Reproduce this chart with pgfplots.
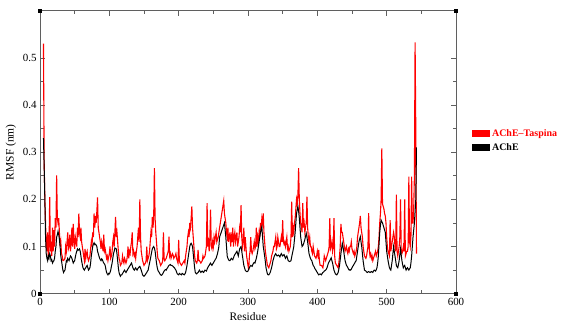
\documentclass[border=0pt]{standalone}
\usepackage{fontspec}
\setmainfont{Liberation Serif}
\usepackage{pgfplots}
\usepackage{pgfplotstable}
\pgfplotsset{compat=1.18}
\definecolor{framegray}{RGB}{95,95,95}

% RMSF per residue, AChE with Taspina
\pgfplotstableread{
res rmsf
5 0.53
6 0.28
7 0.20
8 0.15
9 0.10
10 0.09
11 0.13
12 0.08
13 0.10
14 0.205
15 0.09
16 0.10
17 0.08
18 0.14
19 0.09
20 0.135
21 0.10
22 0.16
23 0.14
24 0.251
25 0.16
26 0.15
27 0.16
28 0.13
29 0.10
30 0.11
31 0.085
32 0.08
33 0.07
34 0.07
36 0.075
37 0.10
38 0.09
40 0.13
41 0.095
42 0.10
43 0.125
44 0.09
45 0.11
46 0.14
47 0.10
48 0.148
49 0.11
50 0.095
51 0.12
52 0.11
53 0.10
54 0.14
55 0.12
56 0.17
57 0.13
58 0.12
59 0.14
60 0.11
61 0.10
62 0.09
63 0.08
64 0.07
65 0.095
66 0.075
67 0.085
68 0.09
69 0.075
70 0.07
72 0.08
73 0.095
74 0.11
75 0.10
76 0.13
77 0.12
78 0.17
79 0.14
80 0.165
81 0.15
82 0.175
83 0.204
84 0.14
85 0.13
86 0.12
87 0.11
88 0.095
89 0.11
90 0.10
91 0.09
92 0.125
93 0.09
94 0.095
95 0.085
96 0.075
97 0.08
98 0.07
100 0.085
101 0.10
102 0.075
103 0.08
104 0.09
105 0.11
106 0.12
107 0.10
108 0.13
109 0.163
110 0.12
111 0.13
112 0.11
113 0.09
114 0.075
115 0.07
116 0.06
118 0.065
119 0.08
120 0.07
121 0.065
122 0.075
124 0.065
125 0.07
126 0.08
127 0.10
128 0.075
129 0.09
130 0.085
131 0.10
132 0.11
133 0.13
134 0.085
135 0.09
136 0.08
137 0.085
138 0.075
139 0.09
140 0.10
141 0.12
142 0.14
143 0.11
144 0.20
145 0.12
146 0.09
147 0.08
148 0.07
150 0.06
152 0.065
153 0.07
154 0.10
155 0.07
156 0.075
157 0.08
158 0.09
159 0.11
160 0.13
161 0.12
162 0.163
163 0.14
164 0.165
165 0.266
166 0.16
167 0.13
168 0.11
169 0.09
170 0.075
172 0.07
174 0.06
176 0.065
177 0.07
178 0.13
179 0.075
180 0.07
182 0.075
183 0.08
184 0.085
185 0.09
186 0.121
187 0.08
188 0.085
189 0.075
190 0.08
191 0.085
192 0.082
193 0.075
194 0.078
195 0.08
196 0.085
197 0.075
198 0.07
199 0.065
200 0.114
201 0.07
202 0.065
204 0.06
206 0.065
208 0.07
209 0.065
210 0.08
211 0.09
212 0.10
213 0.12
214 0.13
215 0.12
216 0.15
217 0.14
218 0.16
219 0.185
220 0.14
221 0.12
222 0.10
223 0.08
224 0.07
226 0.065
227 0.07
228 0.093
229 0.07
230 0.07
232 0.065
234 0.07
235 0.08
236 0.075
238 0.08
239 0.09
240 0.10
241 0.192
242 0.10
243 0.11
244 0.09
245 0.12
246 0.178
247 0.10
248 0.095
249 0.11
250 0.10
251 0.12
252 0.11
253 0.12
254 0.13
255 0.11
256 0.115
257 0.12
258 0.13
265 0.197
266 0.17
267 0.16
268 0.15
269 0.13
270 0.12
271 0.14
272 0.11
273 0.12
274 0.13
275 0.10
276 0.12
277 0.11
278 0.14
279 0.10
280 0.12
281 0.13
282 0.11
283 0.12
284 0.13
285 0.10
286 0.11
287 0.12
288 0.14
289 0.13
290 0.188
291 0.12
292 0.10
293 0.11
294 0.14
295 0.09
296 0.12
297 0.10
298 0.08
299 0.07
300 0.06
301 0.05
302 0.08
303 0.09
304 0.12
305 0.09
306 0.085
307 0.09
308 0.10
309 0.11
310 0.095
311 0.10
312 0.14
313 0.10
314 0.12
315 0.11
316 0.13
317 0.12
318 0.15
319 0.14
320 0.16
321 0.15
322 0.17
323 0.13
324 0.11
325 0.09
326 0.08
327 0.07
328 0.06
330 0.055
332 0.065
333 0.07
334 0.08
335 0.085
336 0.09
337 0.10
338 0.10
339 0.11
340 0.12
341 0.095
342 0.10
343 0.12
344 0.11
345 0.10
346 0.10
347 0.11
348 0.12
349 0.11
350 0.156
351 0.11
352 0.105
353 0.11
354 0.10
355 0.11
356 0.12
357 0.095
358 0.10
359 0.09
360 0.095
361 0.10
362 0.12
363 0.195
364 0.12
365 0.14
366 0.13
367 0.15
368 0.16
369 0.18
370 0.20
371 0.19
372 0.21
373 0.266
374 0.20
375 0.17
376 0.15
377 0.14
378 0.13
379 0.192
380 0.14
381 0.15
382 0.13
383 0.14
384 0.15
385 0.206
386 0.14
387 0.12
388 0.11
389 0.12
390 0.10
391 0.10
392 0.09
393 0.085
394 0.10
395 0.09
396 0.08
398 0.075
399 0.08
400 0.09
401 0.08
402 0.093
403 0.07
404 0.06
406 0.06
408 0.055
409 0.065
410 0.08
411 0.075
412 0.07
413 0.075
414 0.08
415 0.085
416 0.09
417 0.10
418 0.16
419 0.095
420 0.10
421 0.11
422 0.09
423 0.10
424 0.16
425 0.08
426 0.065
428 0.06
430 0.055
431 0.065
432 0.08
433 0.10
434 0.148
435 0.13
436 0.13
437 0.12
438 0.11
439 0.10
440 0.09
441 0.095
442 0.10
443 0.09
444 0.085
445 0.095
446 0.09
447 0.10
448 0.10
449 0.11
450 0.095
451 0.09
452 0.085
453 0.09
454 0.08
455 0.085
456 0.09
457 0.10
458 0.12
459 0.13
460 0.14
461 0.15
462 0.165
463 0.14
464 0.13
465 0.12
466 0.10
467 0.09
468 0.08
470 0.075
471 0.08
472 0.09
473 0.10
474 0.171
475 0.09
476 0.08
477 0.085
478 0.075
479 0.08
480 0.07
481 0.075
482 0.08
483 0.085
484 0.09
485 0.08
486 0.085
487 0.09
488 0.10
489 0.12
490 0.15
491 0.17
492 0.20
493 0.308
494 0.19
495 0.185
496 0.18
497 0.17
498 0.165
499 0.15
500 0.12
501 0.10
502 0.09
503 0.085
504 0.08
505 0.156
506 0.09
507 0.10
508 0.11
509 0.12
510 0.13
511 0.12
512 0.10
513 0.09
514 0.21
515 0.09
516 0.08
517 0.09
518 0.10
519 0.12
520 0.20
521 0.09
522 0.085
523 0.09
524 0.10
525 0.09
526 0.20
527 0.08
528 0.085
529 0.09
530 0.09
531 0.10
532 0.248
533 0.11
534 0.10
535 0.12
536 0.248
537 0.15
538 0.15
539 0.18
540 0.25
541 0.533
542 0.35
543 0.085
}\taspina

% RMSF per residue, AChE alone
\pgfplotstableread{
res rmsf
5 0.33
6 0.27
7 0.20
8 0.12
9 0.085
10 0.075
11 0.07
12 0.08
13 0.075
14 0.085
15 0.08
16 0.07
17 0.072
18 0.065
19 0.068
20 0.07
21 0.075
22 0.09
23 0.10
24 0.12
25 0.125
26 0.132
27 0.125
28 0.115
29 0.10
30 0.08
31 0.07
32 0.06
33 0.05
34 0.045
35 0.048
36 0.05
37 0.06
38 0.07
39 0.068
40 0.075
41 0.072
42 0.07
43 0.076
44 0.08
45 0.078
46 0.075
47 0.07
48 0.065
49 0.068
50 0.07
51 0.078
52 0.085
53 0.09
54 0.095
55 0.092
56 0.093
57 0.095
58 0.09
59 0.08
60 0.07
61 0.062
62 0.055
63 0.052
64 0.05
65 0.053
66 0.055
67 0.058
68 0.06
69 0.055
70 0.05
71 0.052
72 0.055
73 0.065
74 0.08
75 0.09
76 0.10
77 0.105
78 0.108
79 0.104
80 0.105
81 0.103
82 0.10
83 0.09
84 0.085
85 0.08
86 0.075
87 0.072
88 0.07
89 0.074
90 0.072
91 0.068
92 0.065
93 0.063
94 0.06
95 0.052
96 0.045
97 0.042
98 0.04
99 0.043
100 0.042
101 0.045
102 0.05
103 0.058
104 0.065
105 0.075
106 0.085
107 0.09
108 0.097
109 0.096
110 0.095
111 0.085
112 0.07
113 0.055
114 0.045
115 0.04
116 0.037
117 0.04
118 0.04
119 0.043
120 0.045
121 0.048
122 0.05
123 0.047
124 0.045
125 0.048
126 0.05
127 0.053
128 0.055
129 0.058
130 0.06
131 0.063
132 0.065
133 0.06
134 0.055
135 0.052
136 0.05
137 0.053
138 0.055
139 0.052
140 0.05
141 0.053
142 0.055
143 0.057
144 0.058
145 0.054
146 0.05
147 0.045
148 0.04
149 0.038
150 0.037
151 0.039
152 0.04
153 0.043
154 0.045
155 0.048
156 0.05
157 0.058
158 0.065
159 0.072
160 0.08
161 0.088
162 0.095
163 0.098
164 0.10
165 0.097
166 0.09
167 0.078
168 0.065
169 0.056
170 0.05
171 0.047
172 0.045
173 0.042
174 0.04
175 0.039
176 0.04
177 0.042
178 0.045
179 0.048
180 0.05
181 0.051
182 0.05
183 0.053
184 0.055
185 0.058
186 0.06
187 0.061
188 0.062
189 0.06
190 0.06
191 0.059
192 0.058
193 0.056
194 0.055
195 0.052
196 0.05
197 0.046
198 0.042
199 0.041
200 0.04
201 0.043
202 0.042
203 0.041
204 0.04
205 0.043
206 0.042
207 0.041
208 0.04
209 0.042
210 0.045
211 0.052
212 0.06
213 0.07
214 0.08
215 0.09
216 0.10
217 0.105
218 0.107
219 0.104
220 0.10
221 0.085
222 0.07
223 0.055
224 0.045
225 0.043
226 0.042
227 0.044
228 0.045
229 0.048
230 0.05
231 0.047
232 0.045
233 0.047
234 0.048
235 0.046
236 0.045
237 0.048
238 0.05
239 0.049
240 0.048
241 0.052
242 0.055
243 0.058
244 0.06
245 0.063
246 0.065
247 0.062
248 0.06
249 0.063
250 0.065
251 0.068
252 0.07
253 0.073
254 0.075
255 0.08
256 0.085
257 0.092
258 0.10
259 0.12
266 0.15
267 0.135
268 0.12
269 0.10
270 0.08
271 0.075
272 0.072
273 0.07
274 0.07
275 0.073
276 0.075
277 0.073
278 0.072
279 0.076
280 0.08
281 0.083
282 0.085
283 0.088
284 0.09
285 0.085
286 0.08
287 0.088
288 0.095
289 0.098
290 0.10
291 0.09
292 0.08
293 0.07
294 0.06
295 0.055
296 0.05
297 0.048
298 0.047
299 0.047
300 0.048
301 0.052
302 0.055
303 0.058
304 0.06
305 0.059
306 0.058
307 0.062
308 0.065
309 0.066
310 0.065
311 0.07
312 0.075
313 0.082
314 0.09
315 0.10
316 0.11
317 0.12
318 0.13
319 0.137
320 0.142
321 0.12
322 0.10
323 0.09
324 0.08
325 0.068
326 0.055
327 0.048
328 0.042
329 0.04
330 0.04
331 0.042
332 0.045
333 0.05
334 0.055
335 0.062
336 0.07
337 0.075
338 0.08
339 0.083
340 0.085
341 0.082
342 0.08
343 0.081
344 0.082
345 0.08
346 0.078
347 0.082
348 0.085
349 0.082
350 0.08
351 0.082
352 0.083
353 0.079
354 0.075
355 0.078
356 0.08
357 0.075
358 0.07
359 0.069
360 0.068
361 0.069
362 0.07
363 0.078
364 0.085
365 0.092
366 0.10
367 0.115
368 0.13
369 0.15
370 0.17
371 0.178
372 0.185
373 0.175
374 0.16
375 0.14
376 0.12
377 0.11
378 0.10
379 0.102
380 0.105
381 0.11
382 0.115
383 0.122
384 0.128
385 0.12
386 0.11
387 0.098
388 0.085
389 0.08
390 0.075
391 0.072
392 0.07
393 0.065
394 0.06
395 0.058
396 0.055
397 0.052
398 0.05
399 0.047
400 0.045
401 0.042
402 0.04
403 0.041
404 0.042
405 0.041
406 0.04
407 0.043
408 0.045
409 0.046
410 0.048
411 0.049
412 0.05
413 0.052
414 0.055
415 0.06
416 0.065
417 0.068
418 0.07
419 0.073
420 0.076
421 0.07
422 0.065
423 0.057
424 0.05
425 0.046
426 0.042
427 0.041
428 0.04
429 0.042
430 0.045
431 0.052
432 0.06
433 0.072
434 0.085
435 0.096
436 0.107
437 0.1
438 0.09
439 0.08
440 0.07
441 0.065
442 0.06
443 0.058
444 0.055
445 0.052
446 0.05
447 0.051
448 0.05
449 0.052
450 0.055
451 0.058
452 0.06
453 0.063
454 0.065
455 0.068
456 0.07
457 0.08
458 0.09
459 0.10
460 0.11
461 0.116
462 0.121
463 0.11
464 0.10
465 0.085
466 0.07
467 0.06
468 0.05
469 0.049
470 0.048
471 0.046
472 0.045
473 0.046
474 0.047
475 0.046
476 0.045
477 0.046
478 0.047
479 0.046
480 0.045
481 0.048
482 0.05
483 0.049
484 0.048
485 0.051
486 0.055
487 0.065
488 0.08
489 0.105
490 0.13
491 0.145
492 0.156
493 0.153
494 0.15
495 0.145
496 0.14
497 0.135
498 0.13
499 0.11
500 0.09
501 0.08
502 0.07
503 0.062
504 0.055
505 0.052
506 0.05
507 0.06
508 0.07
509 0.085
510 0.10
511 0.09
512 0.08
513 0.07
514 0.06
515 0.057
516 0.055
517 0.062
518 0.07
519 0.083
520 0.095
521 0.082
522 0.07
523 0.062
524 0.055
525 0.058
526 0.06
527 0.055
528 0.05
529 0.053
530 0.055
531 0.052
532 0.05
533 0.053
534 0.055
535 0.065
536 0.08
537 0.10
538 0.12
539 0.135
540 0.15
541 0.175
542 0.20
543 0.31
}\ache

\begin{document}
\begin{tikzpicture}
\begin{axis}[
  name=ax,
  width=416bp, height=283bp, scale only axis,
  xmin=0, xmax=600, ymin=0, ymax=0.6,
  xtick={0,100,...,600},
  ytick={0,0.1,0.2,0.3,0.4,0.5},
  minor x tick num=1, minor y tick num=1,
  tick align=inside,
  major tick length=5bp, minor tick length=3.5bp,
  axis line style={framegray, line width=0.9bp},
  every tick/.style={framegray, line width=0.7bp},
  /pgf/number format/assume math mode=true,
  yticklabel style={/pgf/number format/fixed, /pgf/number format/precision=1},
  tick label style={font=\fontsize{11}{13}\selectfont},
  xticklabel style={yshift=-1bp},
  xlabel={Residue}, ylabel={RMSF (nm)},
  label style={font=\fontsize{11.5}{13}\selectfont},
  legend style={at={(1.038,0.588)}, anchor=north west, draw=none, fill=none,
    inner sep=0pt, row sep=1.5bp,
    font=\bfseries\fontsize{10}{12}\selectfont},
  legend cell align=left,
  legend image code/.code={\fill[#1] (0bp,-2.8bp) rectangle (17bp,2.8bp);},
]
\addplot[red, line width=1.1bp] table[x=res, y=rmsf] {\taspina};
\addlegendentry{\textcolor{red}{AChE\textendash Taspina}}
\addplot[black, line width=1bp] table[x=res, y=rmsf] {\ache};
\addlegendentry{AChE}
\end{axis}
\foreach \c in {south west, south east, north west, north east}
  \fill[black] ([shift={(-2bp,-2bp)}]ax.\c) rectangle ++(4bp,4bp);
\pgfresetboundingbox
\path ([shift={(-40bp,-34bp)}]ax.south west) rectangle ([shift={(111bp,10.7bp)}]ax.north east);
\end{tikzpicture}
\end{document}
